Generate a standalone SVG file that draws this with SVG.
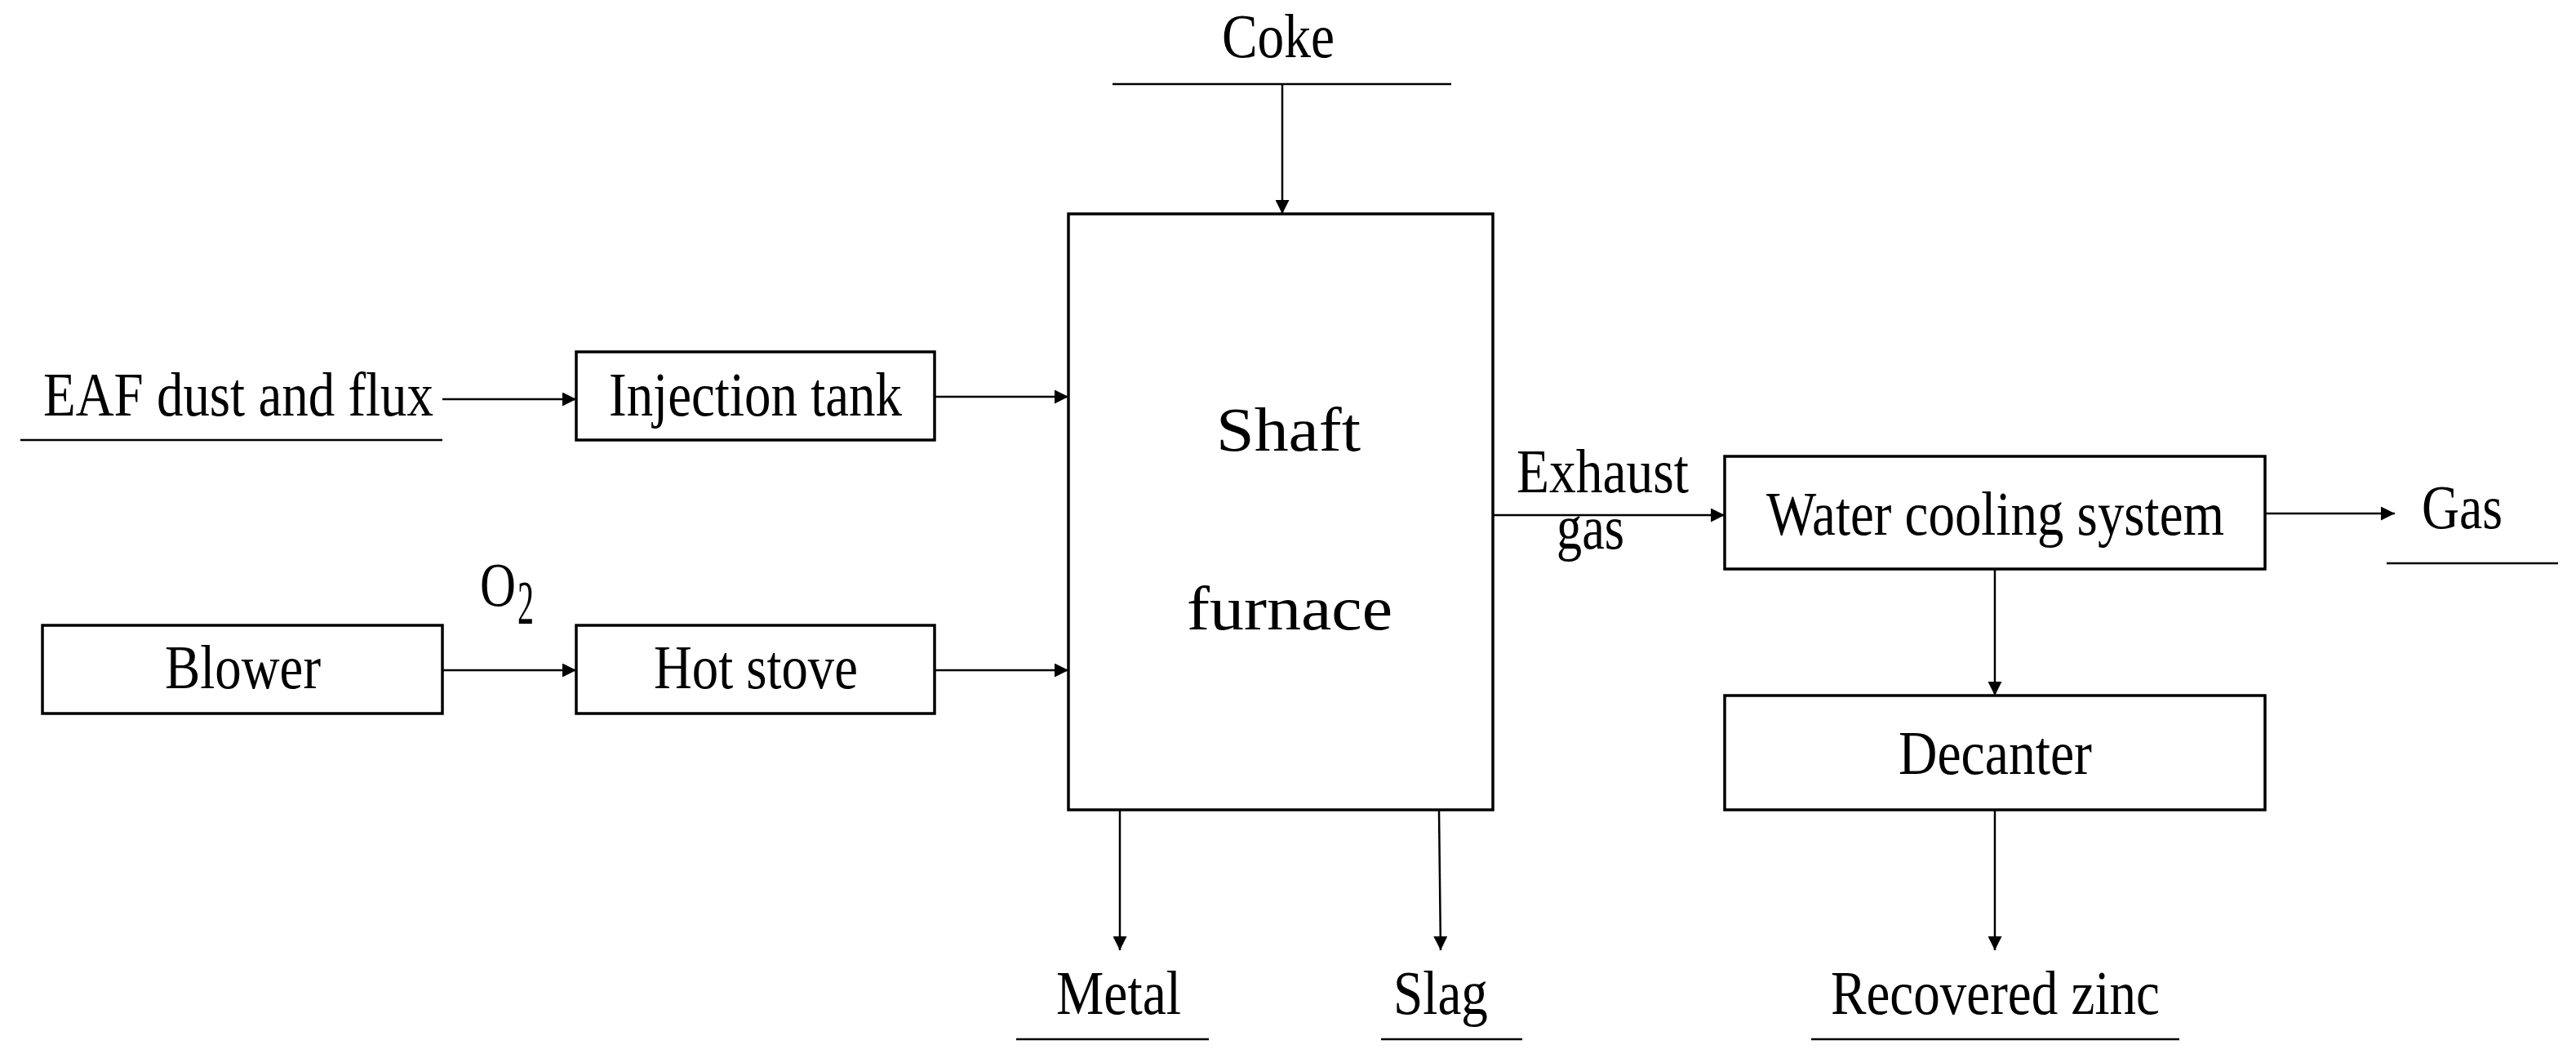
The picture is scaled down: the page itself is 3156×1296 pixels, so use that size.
<svg xmlns="http://www.w3.org/2000/svg" width="3156" height="1296" viewBox="0 0 3156 1296">
<style>
.b{fill:#fff;stroke:#000;stroke-width:3.5}
.l{fill:none;stroke:#000;stroke-width:2.5}
text{font-family:"Liberation Serif","Times New Roman",serif;font-size:76px;fill:#000}
</style>
<defs><marker id="a" viewBox="0 0 10 10" refX="10" refY="5" markerWidth="22" markerHeight="17" markerUnits="userSpaceOnUse" orient="auto"><path d="M0,0L10,5L0,10z"/></marker></defs>
<rect width="3156" height="1296" fill="#fff"/>
<g id="connectors">
<path class="l" d="M542,489H706" marker-end="url(#a)"/>
<path class="l" d="M1145,486H1309" marker-end="url(#a)"/>
<path class="l" d="M542,821H706" marker-end="url(#a)"/>
<path class="l" d="M1145,821H1309" marker-end="url(#a)"/>
<path class="l" d="M1571,103V262" marker-end="url(#a)"/>
<path class="l" d="M1372,992V1164" marker-end="url(#a)"/>
<path class="l" d="M1763,992L1765,1164" marker-end="url(#a)"/>
<path class="l" d="M1829,631H2113" marker-end="url(#a)"/>
<path class="l" d="M2775,629H2934" marker-end="url(#a)"/>
<path class="l" d="M2444,697V852" marker-end="url(#a)"/>
<path class="l" d="M2444,992V1164" marker-end="url(#a)"/>
</g>
<g id="eaf"><text x="53" y="509" textLength="478" lengthAdjust="spacingAndGlyphs">EAF dust and flux</text><path class="l" d="M25,539H542"/></g>
<g id="coke"><text x="1497" y="70" textLength="138" lengthAdjust="spacingAndGlyphs">Coke</text><path class="l" d="M1363,103H1778"/></g>
<g id="injection"><rect class="b" x="706" y="431" width="439" height="108"/><text x="746" y="509" textLength="359" lengthAdjust="spacingAndGlyphs">Injection tank</text></g>
<g id="blower"><rect class="b" x="52" y="766" width="490" height="108"/><text x="202" y="843" textLength="191" lengthAdjust="spacingAndGlyphs">Blower</text></g>
<g id="o2"><text x="588" y="742" textLength="44" lengthAdjust="spacingAndGlyphs">O</text><text x="634" y="764" font-size="48" textLength="20" lengthAdjust="spacingAndGlyphs">2</text></g>
<g id="hotstove"><rect class="b" x="706" y="766" width="439" height="108"/><text x="801" y="843" textLength="250" lengthAdjust="spacingAndGlyphs">Hot stove</text></g>
<g id="furnace"><rect class="b" x="1309" y="262" width="520" height="730"/><text x="1490" y="552" font-size="106" textLength="177" lengthAdjust="spacingAndGlyphs">Shaft</text><text x="1454" y="771" font-size="106" textLength="252" lengthAdjust="spacingAndGlyphs">furnace</text></g>
<g id="exhaust"><text x="1858" y="603" textLength="211" lengthAdjust="spacingAndGlyphs">Exhaust</text><text x="1907" y="672" textLength="83" lengthAdjust="spacingAndGlyphs">gas</text></g>
<g id="water"><rect class="b" x="2113" y="559" width="662" height="138"/><text x="2164" y="655" textLength="561" lengthAdjust="spacingAndGlyphs">Water cooling system</text></g>
<g id="gas"><text x="2967" y="647" textLength="99" lengthAdjust="spacingAndGlyphs">Gas</text><path class="l" d="M2924,690H3134"/></g>
<g id="decanter"><rect class="b" x="2113" y="852" width="662" height="140"/><text x="2326" y="948" textLength="237" lengthAdjust="spacingAndGlyphs">Decanter</text></g>
<g id="metal"><text x="1294" y="1242" textLength="153" lengthAdjust="spacingAndGlyphs">Metal</text><path class="l" d="M1245,1273H1481"/></g>
<g id="slag"><text x="1707" y="1242" textLength="116" lengthAdjust="spacingAndGlyphs">Slag</text><path class="l" d="M1692,1273H1865"/></g>
<g id="zinc"><text x="2243" y="1242" textLength="403" lengthAdjust="spacingAndGlyphs">Recovered zinc</text><path class="l" d="M2219,1273H2670"/></g>
</svg>
